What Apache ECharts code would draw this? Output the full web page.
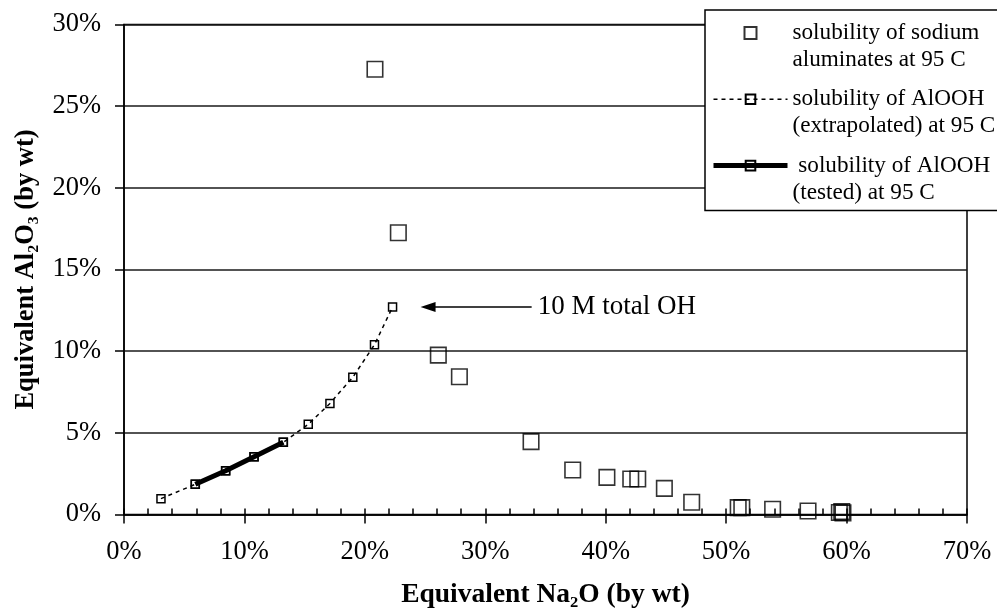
<!DOCTYPE html>
<html>
<head>
<meta charset="utf-8">
<script src="https://cdn.jsdelivr.net/npm/echarts@6/dist/echarts.min.js"></script>
<style>
  html, body { margin: 0; padding: 0; background: #ffffff; }
  #chart { width: 997px; height: 616px; }
</style>
</head>
<body>
<div id="chart"></div>
<script>
// Series names (legend text)
const seriesNames = [
  'solubility of sodium\naluminates at 95 C',
  'solubility of AlOOH\n(extrapolated) at 95 C',
  ' solubility of AlOOH\n(tested) at 95 C'
];

// [Na2O %, Al2O3 %] pairs
const aluminateSolubility = [
  [20.84, 27.26], [22.78, 17.25], [26.1, 9.76], [27.85, 8.43],
  [33.8, 4.46], [37.26, 2.72], [40.1, 2.27], [42.08, 2.17], [42.66, 2.17],
  [44.87, 1.6], [47.14, 0.75], [51.0, 0.42], [51.3, 0.42], [53.86, 0.32],
  [56.8, 0.21], [59.4, 0.12], [59.6, 0.18], [59.7, 0.1]
];
const extrapolatedSolubility = [
  [3.07, 0.97], [5.92, 1.85], [8.44, 2.68], [10.8, 3.54], [13.23, 4.42],
  [15.3, 5.52], [17.1, 6.8], [19.0, 8.4], [20.8, 10.4], [22.3, 12.7]
];
const testedSolubility = [
  [5.92, 1.85], [8.44, 2.68], [10.8, 3.54], [13.23, 4.42]
];

// Axis ranges: [min, max, interval]
const xRange = [0, 70, 10];
const xMinorInterval = 2;
const yRange = [0, 30, 5];

const annotationText = '10 M total OH';
const annotationSpan = [33.85, 25.25]; // arrow tail and head along Na2O axis

const xAxisTitle = 'Equivalent Na\u2082O (by wt)';
const yAxisTitle = 'Equivalent Al\u2082O\u2083 (by wt)';

const FONT = '"Liberation Serif", "Times New Roman", serif';
const INK = '#000000';

const chart = echarts.init(document.getElementById('chart'), null, { renderer: 'canvas' });

const topPoint = extrapolatedSolubility[extrapolatedSolubility.length - 1];

const dashedStyle = { color: INK, width: 1.5, type: [4, 4] };
const thickStyle = { color: INK, width: 5, type: 'solid' };
const hollowMark = { color: 'rgba(0,0,0,0)', borderColor: INK, borderWidth: 1.5 };

// Legend icon for the marker-only series: a centred square inside the full icon slot
const squareIcon = 'path://M0,0 M74,12 M30.5,-0.5 L43.5,-0.5 L43.5,12.5 L30.5,12.5 Z';

chart.setOption({
  animation: false,
  backgroundColor: '#ffffff',
  textStyle: { fontFamily: FONT, color: INK },
  grid: {
    left: 124, right: 30, top: 24.5, bottom: 101.5,
    show: true, borderColor: INK, borderWidth: 1.5, backgroundColor: 'transparent',
    outerBoundsMode: 'none'
  },
  legend: {
    orient: 'vertical',
    left: 705, top: 10,
    padding: [-17.5, 80, 4.5, 6],
    itemGap: -14.7,
    itemWidth: 74,
    itemHeight: 12,
    backgroundColor: '#ffffff',
    borderColor: INK,
    borderWidth: 1.5,
    borderRadius: 0,
    selectedMode: false,
    // a leading blank line keeps each icon level with the first text line
    formatter: (name) => '\n' + name,
    data: [
      { name: seriesNames[0], icon: squareIcon },
      { name: seriesNames[1], lineStyle: dashedStyle },
      { name: seriesNames[2], lineStyle: thickStyle }
    ],
    textStyle: {
      fontFamily: FONT, fontSize: 23.2, color: INK, lineHeight: 27
    }
  },
  xAxis: [
    {
      type: 'value',
      min: xRange[0], max: xRange[1], interval: xRange[2],
      position: 'bottom',
      name: xAxisTitle,
      nameLocation: 'middle',
      nameGap: 66,
      nameTextStyle: { fontFamily: FONT, fontSize: 27.5, fontWeight: 'bold', color: INK },
      axisLine: { show: true, lineStyle: { color: INK, width: 1.5 } },
      axisTick: { show: true, inside: false, length: 9, lineStyle: { color: INK, width: 1.5 } },
      axisLabel: {
        show: true, margin: 24, fontFamily: FONT, fontSize: 26.5, color: INK,
        formatter: '{value}%'
      },
      splitLine: { show: false }
    },
    {
      type: 'value',
      min: xRange[0], max: xRange[1], interval: xMinorInterval,
      position: 'bottom',
      axisLine: { show: false },
      axisTick: { show: true, inside: true, length: 6, lineStyle: { color: INK, width: 1.5 } },
      axisLabel: { show: false },
      splitLine: { show: false }
    }
  ],
  yAxis: {
    type: 'value',
    min: yRange[0], max: yRange[1], interval: yRange[2],
    name: yAxisTitle,
    nameLocation: 'middle',
    nameGap: 84,
    nameRotate: 90,
    nameTextStyle: { fontFamily: FONT, fontSize: 26.5, fontWeight: 'bold', color: INK },
    axisLine: { show: true, lineStyle: { color: INK, width: 1.5 } },
    axisTick: { show: true, inside: false, length: 9, lineStyle: { color: INK, width: 1.5 } },
    axisLabel: {
      show: true, margin: 23, fontFamily: FONT, fontSize: 26.5, color: INK,
      formatter: '{value}%'
    },
    splitLine: { show: true, lineStyle: { color: '#1a1a1a', width: 1.5 } }
  },
  series: [
    {
      name: seriesNames[0],
      type: 'scatter',
      data: aluminateSolubility,
      symbol: 'rect',
      symbolSize: 15.5,
      itemStyle: { color: 'rgba(0,0,0,0)', borderColor: INK, borderWidth: 1.6 },
      emphasis: { disabled: true },
      z: 3
    },
    {
      name: seriesNames[1],
      type: 'line',
      data: extrapolatedSolubility,
      symbol: 'rect',
      symbolSize: 8,
      showAllSymbol: true,
      lineStyle: dashedStyle,
      itemStyle: hollowMark,
      emphasis: { disabled: true },
      z: 4,
      markLine: {
        silent: true,
        animation: false,
        symbolSize: [10, 15],
        lineStyle: { color: INK, width: 1.5, type: 'solid' },
        label: {
          show: true, position: 'start', distance: 6,
          fontFamily: FONT, fontSize: 27, color: INK,
          formatter: annotationText
        },
        data: [[
          { coord: [annotationSpan[0], topPoint[1]], symbol: 'none' },
          { coord: [annotationSpan[1], topPoint[1]], symbol: 'triangle' }
        ]]
      }
    },
    {
      name: seriesNames[2],
      type: 'line',
      data: testedSolubility,
      symbol: 'rect',
      symbolSize: 8,
      showAllSymbol: true,
      lineStyle: thickStyle,
      itemStyle: hollowMark,
      emphasis: { disabled: true },
      z: 5
    }
  ]
});
</script>
</body>
</html>
